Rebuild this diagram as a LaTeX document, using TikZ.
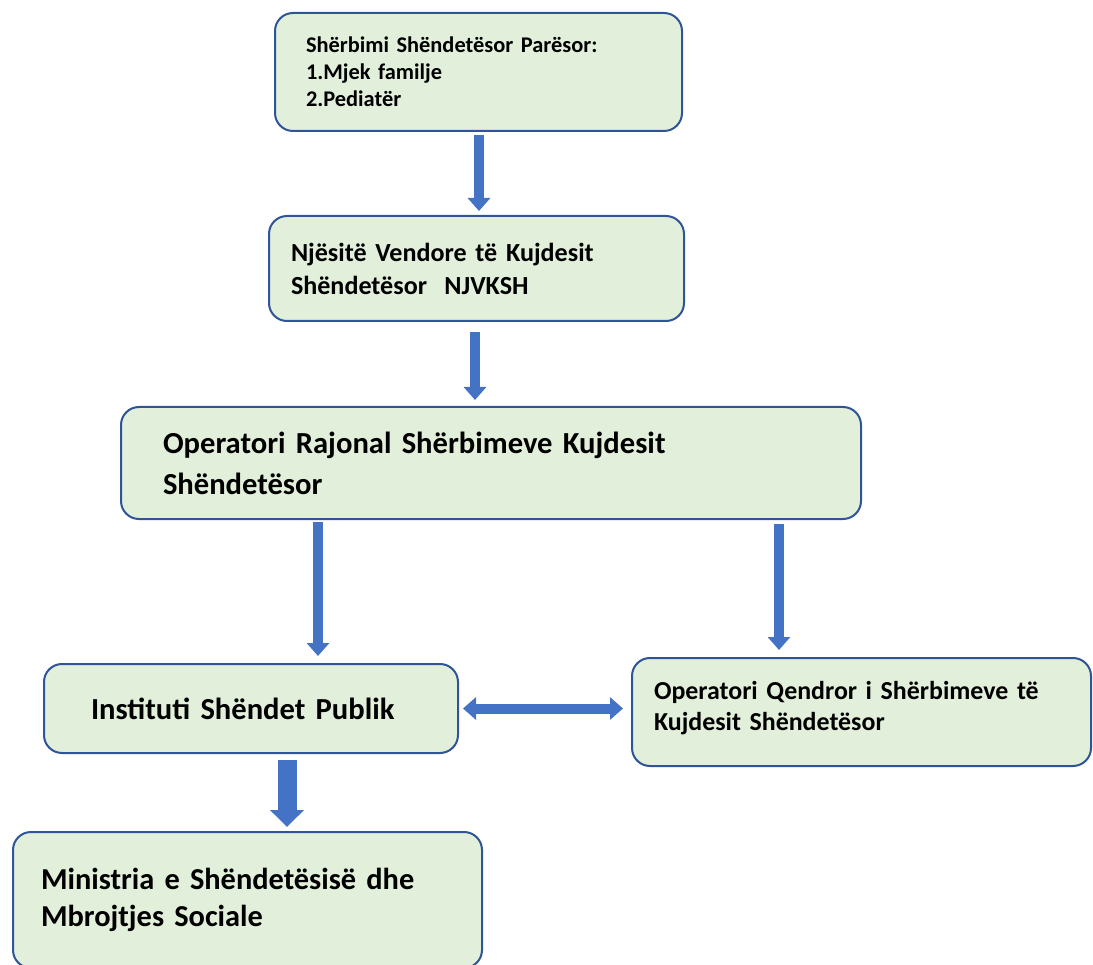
\documentclass[tikz,border=0pt]{standalone}
\usepackage{fontspec}
\setmainfont{Carlito}
\usetikzlibrary{arrows.meta,positioning}
\definecolor{boxfill}{HTML}{E2EFDA}
\definecolor{boxline}{HTML}{2F5597}
\definecolor{arrowblue}{HTML}{4472C4}
\tikzset{
  box/.style={draw=boxline, line width=2pt, fill=boxfill, rounded corners=18pt,
    align=left, anchor=north west, inner ysep=0pt},
  blk/.style={arrowblue, line width=10pt, -{Triangle[width=22pt,length=13pt]}},
  bigblk/.style={arrowblue, line width=19pt, -{Triangle[width=33pt,length=17pt]}},
  dblk/.style={arrowblue, line width=10pt, {Triangle[width=22pt,length=13pt]}-{Triangle[width=22pt,length=13pt]}},
}
\begin{document}
\begin{tikzpicture}[x=1pt,y=1pt]
            \useasboundingbox (0,0) rectangle (1093,-965);
            \node[box, text width=345pt, inner xsep=31pt, minimum height=118pt,
              font=\fontsize{22.4}{27}\selectfont\bfseries] (primary) at (274,-12)
              {Shërbimi Shëndetësor Parësor:\\1.Mjek familje\\2.Pediatër};
            \node[box, text width=371pt, inner xsep=22pt, minimum height=105pt,
              font=\fontsize{26.1}{33}\selectfont\bfseries] (njvksh) at (268,-215)
              {Njësitë Vendore të Kujdesit\\Shëndetësor~~NJVKSH};
            \node[box, text width=656pt, inner xsep=42pt, minimum height=112pt,
              font=\fontsize{30.6}{41}\selectfont\bfseries] (rajonal) at (120,-406)
              {Operatori Rajonal Shërbimeve Kujdesit\\Shëndetësor};
            \node[box, text width=320pt, inner xsep=47pt, minimum height=89pt,
              font=\fontsize{30.6}{37}\selectfont\bfseries] (ishp) at (43,-663)
              {Instituti Shëndet Publik};
            \node[box, text width=415pt, inner xsep=22pt, minimum height=108pt,
              font=\fontsize{25.9}{31}\selectfont\bfseries] (qendror) at (631,-657)
              {Operatori Qendror i Shërbimeve të\\Kujdesit Shëndetësor\\[-18pt]\mbox{}};
            \node[box, text width=413pt, inner xsep=28pt, minimum height=136pt,
              font=\fontsize{30.4}{37}\selectfont\bfseries] (ministria) at (12,-831)
              {Ministria e Shëndetësisë dhe\\Mbrojtjes Sociale};
            \coordinate (a1) at (479,0);
            \coordinate (a2) at (475,0);
            \coordinate (a3) at (318,0);
            \coordinate (a4) at (779,0);
            \coordinate (a5) at (287,0);
            \draw[blk, shorten <=3pt, shorten >=4pt] (a1 |- primary.south) -- (a1 |- njvksh.north);
            \draw[blk, shorten <=10pt, shorten >=6pt] (a2 |- njvksh.south) -- (a2 |- rajonal.north);
            \draw[blk, shorten <=2pt, shorten >=7pt] (a3 |- rajonal.south) -- (a3 |- ishp.north);
            \draw[blk, shorten <=4pt, shorten >=7pt] (a4 |- rajonal.south) -- (a4 |- qendror.north);
            \draw[bigblk, shorten <=6pt, shorten >=4pt] (a5 |- ishp.south) -- (a5 |- ministria.north);
            \draw[dblk, shorten <=4pt, shorten >=8pt] (ishp.east) -- (ishp.east -| qendror.west);
\end{tikzpicture}
\end{document}
